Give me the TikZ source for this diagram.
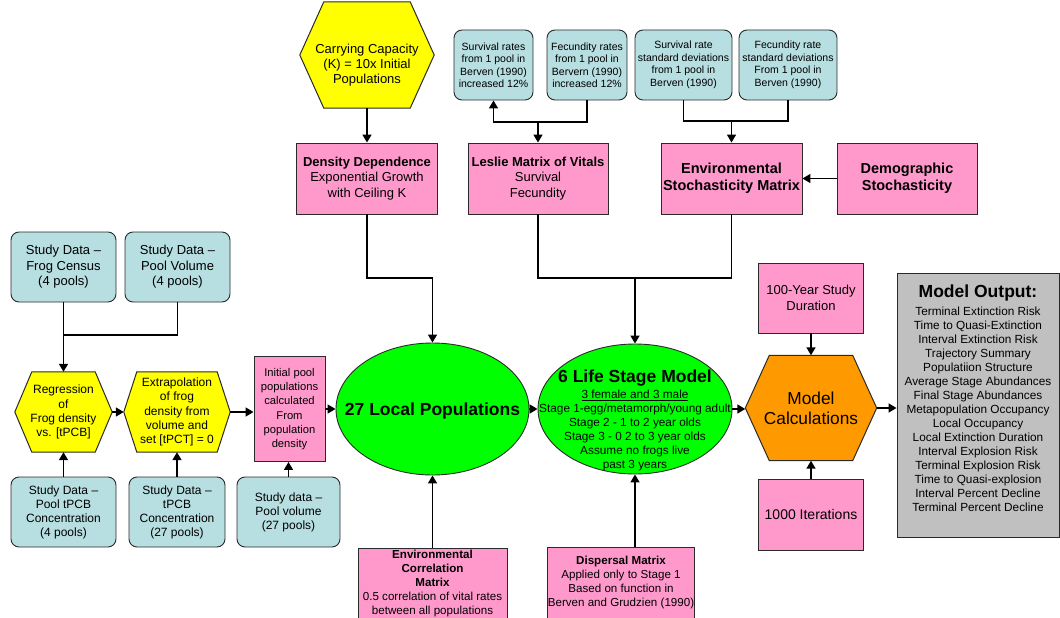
\documentclass[tikz,border=0pt]{standalone}
\usepackage{fontspec}
\setmainfont{Liberation Sans}
\usetikzlibrary{arrows.meta,shapes.geometric,backgrounds}
\definecolor{tealc}{HTML}{B7DEE0}
\definecolor{pinkc}{HTML}{FF99CC}
\definecolor{yelc}{HTML}{FFFF00}
\definecolor{grnc}{HTML}{00FF00}
\definecolor{orgc}{HTML}{FF9900}
\definecolor{gryc}{HTML}{C0C0C0}
\definecolor{bordc}{HTML}{2A2A2A}
\newcommand\fsz[2]{\fontsize{#1}{#2}\selectfont}
\newcommand\hexof[3]{\path[draw=bordc,line width=1pt,fill=#3] (#1.west) -- ([xshift=#2pt]#1.north west) -- ([xshift=-#2pt]#1.north east) -- (#1.east) -- ([xshift=-#2pt]#1.south east) -- ([xshift=#2pt]#1.south west) -- cycle;}
\tikzset{
  basebox/.style={inner sep=0pt, align=center, draw=bordc, line width=0.9pt},
  tealbox/.style={basebox, rectangle, rounded corners=8pt, fill=tealc, font=\fsz{13}{15.5}},
  tealsmall/.style={tealbox, font=\fsz{10.5}{12.5}},
  tealmid/.style={tealbox, font=\fsz{12}{14}},
  pinkbox/.style={basebox, rectangle, fill=pinkc, font=\fsz{13}{15.3}},
  pinkbig/.style={pinkbox, font=\fsz{14.5}{16.7}\bfseries},
  pinksmall/.style={pinkbox, font=\fsz{11.6}{14}},
  hexarea/.style={rectangle, inner sep=0pt, draw=none, align=center},
  ellbox/.style={ellipse, basebox, fill=grnc},
  txt/.style={inner sep=0pt, align=center},
  arr/.style={line width=1.5pt, -{Triangle[length=8pt,width=9pt]}},
  ln/.style={line width=1.5pt}
}
\begin{document}
\begin{tikzpicture}[x=1pt,y=-1pt]
\useasboundingbox (0,0) rectangle (1060,618);
% top row
\node[hexarea, minimum width=134pt, minimum height=106pt] (cc) at (367,55) {};
\node[txt, font=\fsz{13}{15}] (cct) at (367,65) {Carrying Capacity\\(K) = 10x Initial\\Populations};
\node[tealsmall, minimum width=79pt, minimum height=70pt] (sr) at (493.5,65) {Survival rates\\from 1 pool in\\Berven (1990)\\increased 12\%};
\node[tealsmall, minimum width=80pt, minimum height=70pt] (fr) at (587,65) {Fecundity rates\\from 1 pool in\\Bervern (1990)\\increased 12\%};
\node[tealsmall, minimum width=97pt, minimum height=70pt] (ssd) at (683.5,65) {Survival rate\\standard deviations\\from 1 pool in\\Berven (1990)};
\node[tealsmall, minimum width=98pt, minimum height=70pt] (fsd) at (788,65) {Fecundity rate\\standard deviations\\From 1 pool in\\Berven (1990)};
% second row
\node[pinkbox, minimum width=141pt, minimum height=71pt] (dd) at (367,178.5) {\textbf{Density Dependence}\\Exponential Growth\\with Ceiling K};
\node[pinkbox, minimum width=140pt, minimum height=71pt] (lm) at (538,178.5) {\textbf{Leslie Matrix of Vitals}\\Survival\\Fecundity};
\node[pinkbig, minimum width=141pt, minimum height=71pt] (es) at (731.5,178.5) {Environmental\\Stochasticity Matrix};
\node[pinkbig, minimum width=140pt, minimum height=71pt] (ds) at (907,178.5) {Demographic\\Stochasticity};
% left part
\node[tealbox, minimum width=105pt, minimum height=70pt] (sfc) at (63.5,267) {Study Data --\\Frog Census\\(4 pools)};
\node[tealbox, minimum width=105pt, minimum height=70pt] (spv) at (177.5,267) {Study Data --\\Pool Volume\\(4 pools)};
\node[hexarea, minimum width=97pt, minimum height=80pt, font=\fsz{12}{14.2}] (reg) at (63.5,412) {Regression\\of\\Frog density\\vs. [tPCB]};
\node[hexarea, minimum width=106pt, minimum height=80pt, font=\fsz{12}{14.2}] (ext) at (177,412) {Extrapolation\\of frog\\density from\\volume and\\set [tPCT] = 0};
\node[pinkbox, minimum width=71pt, minimum height=105pt, font=\fsz{11.2}{14.2}] (ipp) at (289.5,409) {Initial pool\\populations\\calculated\\From\\population\\density};
\node[tealmid, minimum width=105pt, minimum height=70pt] (spt) at (63.5,512) {Study Data --\\Pool tPCB\\Concentration\\(4 pools)};
\node[tealmid, minimum width=96pt, minimum height=70pt] (stp) at (177,512) {Study Data --\\tPCB\\Concentration\\(27 pools)};
\node[tealmid, minimum width=103pt, minimum height=70pt] (spw) at (288.5,512) {Study data --\\Pool volume\\(27 pools)};
% ellipses
\node[ellbox, minimum width=193pt, minimum height=132pt] (lp) at (432.5,409) {};
\node[txt, font=\fsz{17.5}{20}\bfseries] (lpt) at (432.5,411) {27 Local Populations};
\node[ellbox, minimum width=194pt, minimum height=130pt] (ls) at (635,409) {};
\node[txt, font=\fsz{11.8}{14}, anchor=north] (lst) at (635,369.5) {{\fsz{17.5}{18}\bfseries 6 Life Stage Model}\\[2.5pt]\underline{3 female and 3 male}\\Stage 1-egg/metamorph/young adult\\Stage 2 - 1 to 2 year olds\\Stage 3 - 0 2 to 3 year olds\\Assume no frogs live\\past 3 years};
% bottom boxes
\node[pinksmall, minimum width=149pt, minimum height=70pt] (ecm) at (432.5,583) {\textbf{Environmental}\\\textbf{Correlation}\\\textbf{Matrix}\\0.5 correlation of vital rates\\between all populations};
\node[pinksmall, minimum width=144pt, minimum height=71pt] (dm) at (621,582.5) {\textbf{Dispersal Matrix}\\Applied only to Stage 1\\Based on function in\\Berven and Grudzien (1990)};
% right part
\node[pinkbox, minimum width=105pt, minimum height=70pt] (yd) at (811,298) {100-Year Study\\Duration};
\node[hexarea, minimum width=131pt, minimum height=105pt, font=\fsz{17.3}{20}] (mc) at (811,408) {Model\\Calculations};
\node[pinkbox, minimum width=105pt, minimum height=71pt, font=\fsz{14}{16}] (it) at (811,514.5) {1000 Iterations};
\node[basebox, rectangle, fill=gryc, minimum width=162pt, minimum height=264pt] (mo) at (978,405) {};
\node[txt, anchor=north, font=\fsz{11.8}{14}] (mot) at (978,285) {{\fsz{17.5}{19}\bfseries Model Output:}\\[4pt]Terminal Extinction Risk\\Time to Quasi-Extinction\\Interval Extinction Risk\\Trajectory Summary\\Populatiion Structure\\Average Stage Abundances\\Final Stage Abundances\\Metapopulation Occupancy\\Local Occupancy\\Local Extinction Duration\\Interval Explosion Risk\\Terminal Explosion Risk\\Time to Quasi-explosion\\Interval Percent Decline\\Terminal Percent Decline};
% hexagon outlines
\begin{pgfonlayer}{background}
\hexof{cc}{24}{yelc}
\hexof{reg}{17}{yelc}
\hexof{ext}{13}{yelc}
\hexof{mc}{24}{orgc}
\end{pgfonlayer}
% junction points
\coordinate (jl) at (538,122);
\coordinate (je) at (731.5,121);
\coordinate (jd) at (432.5,278);
\coordinate (jm) at (635,278);
\coordinate (jf) at (63.5,335);
% connectors
\draw[arr] (cc.south) -- (cc.south |- dd.north);
\draw[arr] (jl) -- (lm.north);
\draw[arr] (fr.south) |- (sr.south |- jl) -- (sr.south);
\draw[ln] (ssd.south) |- (fsd.south |- je) -- (fsd.south);
\draw[arr] (je) -- (es.north);
\draw[arr] (ds.west) -- (es.east);
\draw[arr] (dd.south) |- (jd) -- (lp.north);
\draw[ln] (lm.south) |- (es.south |- jm) -- (es.south);
\draw[arr] (jm) -- (ls.north);
\draw[arr] (sfc.south) -- (reg.north);
\draw[ln] (spv.south) |- (jf);
\draw[arr] (reg.east) -- (ext.west);
\draw[arr] (ext.east) -- (ext.east -| ipp.west);
\draw[arr] (ipp.east) -- (ipp.east -| lp.west);
\draw[arr] (lp.east) -- (ls.west);
\draw[arr] (spt.north) -- (reg.south);
\draw[arr] (stp.north) -- (ext.south);
\draw[arr] (spw.north) -- (spw.north |- ipp.south);
\draw[arr] (ecm.north) -- (lp.south);
\draw[arr] (ls.south |- dm.north) -- (ls.south);
\draw[arr] (ls.east) -- (ls.east -| mc.west);
\draw[arr] (yd.south) -- (mc.north);
\draw[arr] (it.north) -- (mc.south);
\draw[arr] (mc.east) -- (mc.east -| mo.west);
\end{tikzpicture}
\end{document}
